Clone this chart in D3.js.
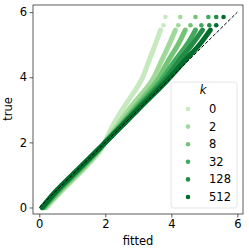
<!DOCTYPE html>
<html lang="en">
<head>
<meta charset="UTF-8">
<title>fitted vs true</title>
<script src="https://d3js.org/d3.v7.min.js"></script>
<style>
  body { margin: 0; background: #fff; }
  text { font-family: "DejaVu Sans", sans-serif; }
</style>
</head>
<body>
<svg id="chart" width="249" height="252"></svg>
<script>
// data
const kLabels = ["0", "2", "8", "32", "128", "512"];
const colors = ["#c7e9c0", "#a1d99b", "#74c476", "#41ab5d", "#238b45", "#006d2c"];
const trueVals = [0, 0.5, 1.25, 1.8, 2.0, 2.5, 3.06, 3.91, 4.5, 5.0, 5.45];
const fitK0   = [0.22, 0.68, 1.42, 1.88, 1.98, 2.22, 2.55, 3.09, 3.32, 3.51, 3.67];
const fitK2   = [0.18, 0.64, 1.38, 1.86, 1.99, 2.35, 2.75, 3.42, 3.70, 3.93, 4.12];
const fitK8   = [0.15, 0.60, 1.34, 1.84, 2.0, 2.42, 2.88, 3.58, 3.90, 4.20, 4.42];
const fitK32  = [0.12, 0.56, 1.30, 1.82, 2.0, 2.46, 2.95, 3.70, 4.10, 4.47, 4.73];
const fitK128 = [0.10, 0.53, 1.27, 1.81, 2.0, 2.48, 3.00, 3.79, 4.23, 4.62, 4.94];
const fitK512 = [0.08, 0.50, 1.25, 1.80, 2.0, 2.50, 3.04, 3.88, 4.40, 4.85, 5.18];
// separate points at the top of each series
const topTrue = [5.6, 5.85];
const topFit = [
  [3.76, 3.82], [4.21, 4.27], [4.58, 4.73], [4.91, 5.12], [5.15, 5.36], [5.36, 5.58]
];
const xTicks = [0, 2, 4, 6];
const yTicks = [0, 2, 4, 6];

const fits = [fitK0, fitK2, fitK8, fitK32, fitK128, fitK512];

const svg = d3.select("#chart");
const x = d3.scaleLinear().domain([-0.19, 6.17]).range([33, 243]);
const y = d3.scaleLinear().domain([-0.2, 6.22]).range([214, 5]);

const plot = svg.append("g");

// series lines (dense scatter in the original)
const line = d3.line()
  .x(d => x(d[0]))
  .y(d => y(d[1]))
  .curve(d3.curveMonotoneY);

fits.forEach((f, i) => {
  plot.append("path")
    .attr("d", line(f.map((v, j) => [v, trueVals[j]])))
    .attr("fill", "none")
    .attr("stroke", colors[i])
    .attr("stroke-width", 5)
    .attr("stroke-linecap", "round");
  plot.selectAll(null)
    .data(topFit[i].map((v, j) => [v, topTrue[j]]))
    .enter()
    .append("circle")
    .attr("cx", d => x(d[0]))
    .attr("cy", d => y(d[1]))
    .attr("r", 2.3)
    .attr("fill", colors[i]);
});

// y = x reference
plot.append("line")
  .attr("x1", x(0)).attr("y1", y(0))
  .attr("x2", x(6)).attr("y2", y(6))
  .attr("stroke", "#000")
  .attr("stroke-width", 1)
  .attr("stroke-dasharray", "3.5,1.8");

// axes
const xAxis = svg.append("g")
  .attr("transform", "translate(0,214)")
  .call(d3.axisBottom(x).tickValues(xTicks).tickFormat(d3.format("d")).tickSize(3.5).tickPadding(2.5));
const yAxis = svg.append("g")
  .attr("transform", "translate(33,0)")
  .call(d3.axisLeft(y).tickValues(yTicks).tickFormat(d3.format("d")).tickSize(3.5).tickPadding(2.5));
[xAxis, yAxis].forEach(a => {
  a.select(".domain").remove();
  a.selectAll("line").attr("stroke", "#333").attr("stroke-width", 0.8);
  a.selectAll("text").attr("font-size", 11.5).attr("fill", "#000")
    .attr("font-family", "DejaVu Sans, sans-serif");
});

// frame
svg.append("rect")
  .attr("x", 33).attr("y", 5)
  .attr("width", 210).attr("height", 209)
  .attr("fill", "none")
  .attr("stroke", "#333")
  .attr("stroke-width", 0.8);

svg.append("text")
  .attr("x", 138).attr("y", 245)
  .attr("text-anchor", "middle")
  .attr("font-size", 11.5)
  .text("fitted");
svg.append("text")
  .attr("transform", "translate(12,109) rotate(-90)")
  .attr("text-anchor", "middle")
  .attr("font-size", 11.5)
  .text("true");

// legend
const legend = svg.append("g");
legend.append("rect")
  .attr("x", 171).attr("y", 82)
  .attr("width", 66).attr("height", 126)
  .attr("rx", 2.5)
  .attr("fill", "#fff").attr("fill-opacity", 0.8)
  .attr("stroke", "#ddd").attr("stroke-width", 0.8);
legend.append("text")
  .attr("x", 203).attr("y", 94)
  .attr("text-anchor", "middle")
  .attr("font-size", 11.5)
  .attr("font-style", "italic")
  .text("k");
const rows = legend.selectAll("g.row")
  .data(kLabels)
  .enter()
  .append("g")
  .attr("class", "row")
  .attr("transform", (d, i) => `translate(0,${109 + i * 17.6})`);
rows.append("circle")
  .attr("cx", 188).attr("cy", 0).attr("r", 2.3)
  .attr("fill", (d, i) => colors[i]);
rows.append("text")
  .attr("x", 209).attr("y", 4)
  .attr("font-size", 11.5)
  .text(d => d);
</script>
</body>
</html>
